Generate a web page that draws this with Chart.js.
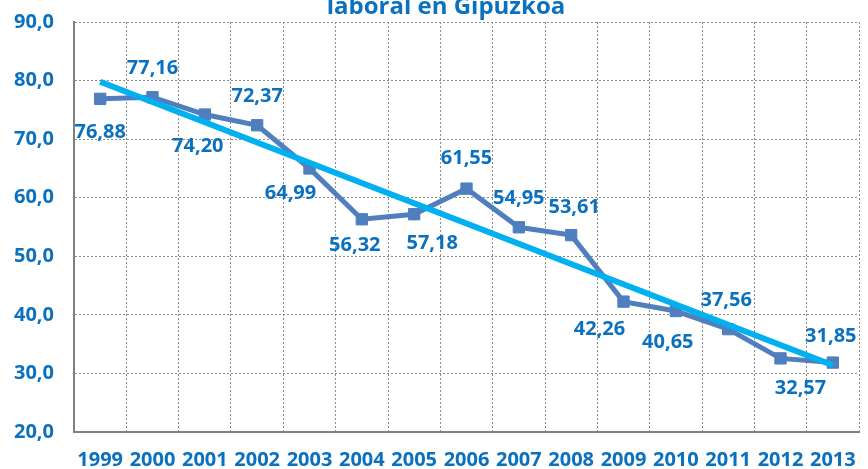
<!DOCTYPE html>
<html>
<head>
<meta charset="utf-8">
<script src="https://cdn.jsdelivr.net/npm/chart.js@4/dist/chart.umd.min.js"></script>
<style>
  html, body { margin: 0; padding: 0; background: #ffffff; }
  #wrap { width: 868px; height: 469px; position: relative; }
</style>
</head>
<body>
<div id="wrap"><canvas id="c" width="868" height="469"></canvas></div>
<script>
// ---- data ----
const years = ['1999','2000','2001','2002','2003','2004','2005','2006','2007','2008','2009','2010','2011','2012','2013'];
const values = [76.88, 77.16, 74.20, 72.37, 64.99, 56.32, 57.18, 61.55, 54.95, 53.61, 42.26, 40.65, 37.56, 32.57, 31.85];
// trend line end points (1999 and 2013)
const trendStart = 79.8;
const trendEnd = 31.4;
const yTicks = [20, 30, 40, 50, 60, 70, 80, 90];
const titleText = 'laboral en Gipuzkoa';

// label placement (offsets in px from each point)
const labelOffsets = [
  [0, 33], [0, -29], [-7, 32], [0, -29], [-19, 25], [-7, 26], [18, 29], [0, -30],
  [0, -29], [3, -28], [-24, 28], [-8, 31], [-2, -29], [20, 30], [-2, -26]
];

const BLUE_TEXT = '#0A70C0';
const FONT = '"Open Sans", "Noto Sans", sans-serif';

const trendData = years.map((y, i) => i === 0 ? trendStart : (i === years.length - 1 ? trendEnd : null));

const labelPlugin = {
  id: 'valueLabels',
  afterDatasetsDraw(chart) {
    const ctx = chart.ctx;
    const meta = chart.getDatasetMeta(1);
    ctx.save();
    ctx.font = 'bold 20px ' + FONT;
    ctx.fillStyle = BLUE_TEXT;
    ctx.textAlign = 'center';
    ctx.textBaseline = 'middle';
    meta.data.forEach((pt, i) => {
      const off = labelOffsets[i];
      ctx.fillText(values[i].toFixed(2).replace('.', ','), pt.x + off[0], pt.y + off[1]);
    });
    ctx.restore();
  }
};

const titlePlugin = {
  id: 'cutTitle',
  afterDraw(chart) {
    const ctx = chart.ctx;
    ctx.save();
    ctx.font = 'bold 24px ' + FONT;
    ctx.fillStyle = BLUE_TEXT;
    ctx.textAlign = 'center';
    ctx.textBaseline = 'alphabetic';
    ctx.fillText(titleText, 446, 14);
    ctx.restore();
  }
};

new Chart(document.getElementById('c'), {
  type: 'line',
  data: {
    labels: years,
    datasets: [
      {
        label: 'trend',
        data: trendData,
        borderColor: '#00B0F0',
        borderWidth: 6,
        pointRadius: 0,
        spanGaps: true,
        tension: 0,
        order: 0
      },
      {
        label: 'values',
        data: values,
        borderColor: '#4F7FBE',
        backgroundColor: '#4F7FBE',
        borderWidth: 5,
        pointStyle: 'rect',
        pointRadius: 8,
        pointBorderWidth: 1,
        tension: 0,
        order: 1
      }
    ]
  },
  options: {
    responsive: false,
    animation: false,
    devicePixelRatio: 1,
    layout: { padding: { top: 22, right: 1, left: 0, bottom: 0 } },
    plugins: {
      legend: { display: false },
      title: { display: false },
      tooltip: { enabled: false }
    },
    scales: {
      x: {
        offset: true,
        grid: {
          offset: true,
          color: '#8a8a8a',
          lineWidth: 1,
          drawTicks: false
        },
        border: { display: true, color: '#808080', width: 2, dash: [2, 2] },
        ticks: {
          color: BLUE_TEXT,
          font: { family: FONT, size: 20, weight: 'bold' },
          padding: 16,
          maxRotation: 0,
          autoSkip: false
        },
        afterFit(scale) { scale.height = 37; scale.paddingLeft = 0; scale.paddingRight = 0; }
      },
      y: {
        min: 20,
        max: 90,
        afterBuildTicks(scale) { scale.ticks = yTicks.map(v => ({ value: v })); },
        grid: {
          color: '#8a8a8a',
          lineWidth: 1,
          drawTicks: false
        },
        border: { display: true, color: '#808080', width: 2, dash: [2, 2] },
        ticks: {
          color: BLUE_TEXT,
          font: { family: FONT, size: 20, weight: 'bold' },
          padding: 20,
          callback: (v) => Number(v).toFixed(1).replace('.', ',')
        },
        afterFit(scale) { scale.width = 74; scale.paddingTop = 0; scale.paddingBottom = 0; }
      }
    }
  },
  plugins: [labelPlugin, titlePlugin]
});
</script>
</body>
</html>
